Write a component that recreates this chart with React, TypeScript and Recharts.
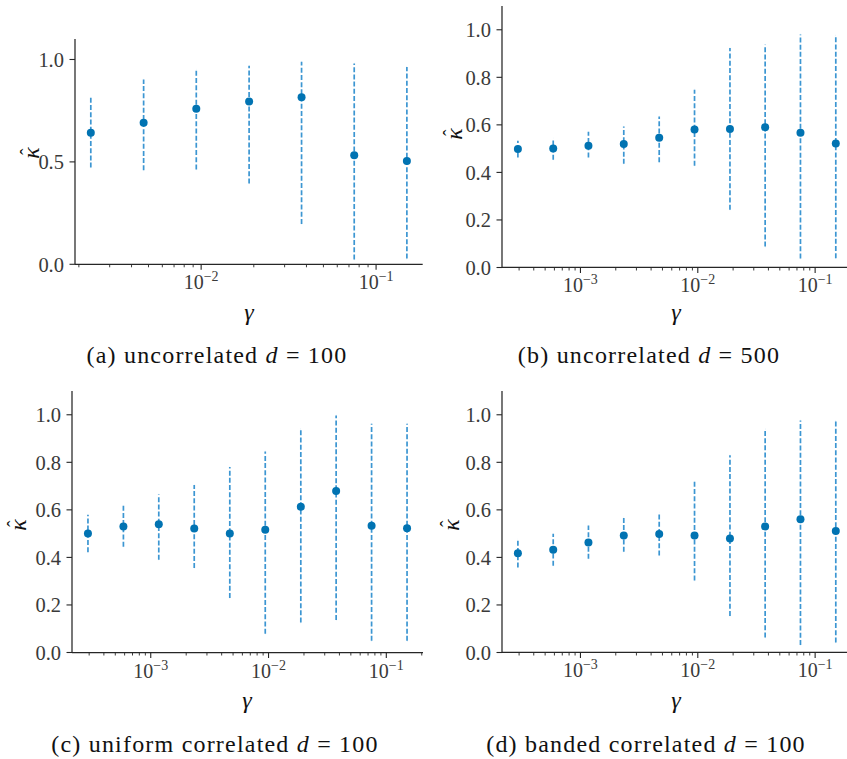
import React from 'react';
import { ScatterChart, Scatter, XAxis, YAxis, ErrorBar } from 'recharts';

// step sizes (gamma), shared by all panels; (a) only has the 7 largest
const gammaShort = [0.00234, 0.00469, 0.00938, 0.0188, 0.0375, 0.075, 0.15];
const gammaLong = [0.000293, 0.000586, 0.00117, 0.00234, 0.00469, 0.00938, 0.0188, 0.0375, 0.075, 0.15];

// (a) uncorrelated d = 100
const kappaA = [0.642, 0.691, 0.759, 0.795, 0.815, 0.533, 0.504];
const lowA = [0.472, 0.459, 0.463, 0.395, 0.197, 0.024, 0.028];
const highA = [0.813, 0.902, 0.951, 0.969, 0.989, 0.98, 0.963];

// (b) uncorrelated d = 500
const kappaB = [0.498, 0.501, 0.512, 0.519, 0.546, 0.581, 0.583, 0.59, 0.567, 0.522];
const lowB = [0.463, 0.453, 0.463, 0.436, 0.443, 0.428, 0.243, 0.088, 0.038, 0.039];
const highB = [0.533, 0.544, 0.571, 0.593, 0.635, 0.748, 0.923, 0.937, 0.98, 0.976];

// (c) uniform correlated d = 100
const kappaC = [0.501, 0.53, 0.54, 0.522, 0.501, 0.516, 0.613, 0.679, 0.533, 0.523];
const lowC = [0.422, 0.445, 0.39, 0.355, 0.229, 0.079, 0.126, 0.137, 0.049, 0.049];
const highC = [0.579, 0.617, 0.665, 0.705, 0.78, 0.846, 0.941, 0.997, 0.962, 0.962];

// (d) banded correlated d = 100
const kappaD = [0.418, 0.432, 0.463, 0.492, 0.498, 0.492, 0.48, 0.53, 0.561, 0.511];
const lowD = [0.358, 0.365, 0.394, 0.424, 0.408, 0.303, 0.154, 0.063, 0.032, 0.042];
const highD = [0.477, 0.499, 0.534, 0.568, 0.589, 0.718, 0.83, 0.94, 0.976, 0.973];

const yTicksCoarse = [0, 0.5, 1.0];
const yTicksFine = [0, 0.2, 0.4, 0.6, 0.8, 1.0];
const xMajorShort = [0.01, 0.1];
const xMajorLong = [0.001, 0.01, 0.1];

const INK = '#262626';
const TEXT = '#3a3a3a';
const DOT = '#0173b2';
const BAR = '#3c96d2';
const SERIF = "'Liberation Serif', 'Times New Roman', Tinos, 'DejaVu Serif', 'Noto Serif', Times, serif";

const YW = 80;
const XH = 40;
const MT = 8;
const MR = 6;

function XTick(props: any) {
  const { x, y, payload } = props;
  const e = Math.log10(payload.value);
  const major = Math.abs(e - Math.round(e)) < 1e-6;
  return (
    <g>
      <line x1={x} x2={x} y1={y} y2={y + (major ? 5.5 : 3)} stroke={INK} strokeWidth={major ? 1.1 : 0.9} />
      {major && (
        <text x={x} y={y + 25} textAnchor="middle" style={{ fontFamily: SERIF }} fontSize={20} fill={TEXT}>
          10<tspan dy={-8} fontSize={14}>{'\u2212' + Math.round(-e)}</tspan>
        </text>
      )}
    </g>
  );
}

function YTick(props: any) {
  const { x, y, payload } = props;
  return (
    <g>
      <line x1={x - 5.5} x2={x} y1={y} y2={y} stroke={INK} strokeWidth={1.1} />
      <text x={x - 11} y={y} dy="0.36em" textAnchor="end" style={{ fontFamily: SERIF }} fontSize={20.5} fill={TEXT}>
        {payload.value.toFixed(1)}
      </text>
    </g>
  );
}

function Dot(props: any) {
  return <circle cx={props.cx} cy={props.cy} r={4} fill={DOT} />;
}

function Panel({ gamma, kappa, low, high, xMajor, yTicks, box }: any) {
  const data = gamma.map((g: number, i: number) => ({
    g,
    k: kappa[i],
    err: [kappa[i] - low[i], high[i] - kappa[i]],
  }));
  const lg = gamma.map((g: number) => Math.log10(g));
  const lo = Math.min(...lg);
  const hi = Math.max(...lg);
  const pad = (hi - lo) * 0.05;
  const domain = [10 ** (lo - pad), 10 ** (hi + pad)];
  const minor: number[] = [];
  for (let e = Math.floor(lo - pad); e <= Math.ceil(hi + pad); e++) {
    for (let m = 2; m <= 9; m++) {
      const v = m * 10 ** e;
      if (v >= domain[0] && v <= domain[1]) minor.push(v);
    }
  }
  const ticks = [...minor, ...xMajor].sort((a, b) => a - b);

  return (
    <div style={{ position: 'absolute', left: box.x - YW, top: box.y - MT }}>
      <ScatterChart
        width={YW + box.w + MR}
        height={MT + box.h + XH}
        margin={{ top: MT, right: MR, bottom: 0, left: 0 }}
      >
        <XAxis
          type="number"
          dataKey="g"
          scale="log"
          domain={domain}
          allowDataOverflow
          ticks={ticks}
          interval={0}
          tick={<XTick />}
          tickLine={false}
          tickSize={0}
          tickMargin={0}
          height={XH}
          stroke={INK}
          strokeWidth={1.25}
        />
        <YAxis
          type="number"
          dataKey="k"
          domain={[0, 1.1]}
          allowDataOverflow
          ticks={yTicks}
          interval={0}
          tick={<YTick />}
          tickLine={false}
          tickSize={0}
          tickMargin={0}
          width={YW}
          stroke={INK}
          strokeWidth={1.25}
        />
        <Scatter data={data} shape={<Dot />} isAnimationActive={false}>
          <ErrorBar dataKey="err" direction="y" width={0} stroke={BAR} strokeWidth={1.7} strokeDasharray="5 2.2" />
        </Scatter>
      </ScatterChart>
    </div>
  );
}

function Txt({ x, y, size = 24, rotate = false, italic = false, children }: any) {
  return (
    <div
      style={{
        position: 'absolute',
        left: x,
        top: y,
        transform: `translate(-50%, -50%)${rotate ? ' rotate(-90deg)' : ''}`,
        fontFamily: SERIF,
        fontSize: size,
        fontStyle: italic ? 'italic' : 'normal',
        lineHeight: 1,
        whiteSpace: 'nowrap',
        color: '#111',
      }}
    >
      {children}
    </div>
  );
}

// kappa with a hat drawn on top, so it does not depend on combining marks
function KappaHat({ x, y }: any) {
  return (
    <Txt x={x} y={y} rotate italic size={24}>
      <span style={{ position: 'relative', display: 'inline-block' }}>
        κ
        <span style={{ position: 'absolute', left: '0.2em', top: '-0.12em', fontSize: '0.8em', fontStyle: 'normal' }}>ˆ</span>
      </span>
    </Txt>
  );
}

function Caption({ x, y, label, d }: any) {
  return (
    <Txt x={x} y={y} size={24}>
      <span style={{ letterSpacing: 1.2 }}>
        {label} <i>d</i> = {d}
      </span>
    </Txt>
  );
}

export default function App() {
  const boxA = { x: 75, y: 39, w: 347.7, h: 225.3 };
  const boxB = { x: 501.7, y: 6.2, w: 349.7, h: 261.5 };
  const boxC = { x: 71.7, y: 391.2, w: 351, h: 261.5 };
  const boxD = { x: 501.7, y: 391.2, w: 349.7, h: 261.5 };
  return (
    <div style={{ position: 'absolute', left: 0, top: 0, width: 847, height: 759, overflow: 'hidden', background: '#fff' }}>
      <Panel gamma={gammaShort} kappa={kappaA} low={lowA} high={highA} xMajor={xMajorShort} yTicks={yTicksCoarse} box={boxA} />
      <Panel gamma={gammaLong} kappa={kappaB} low={lowB} high={highB} xMajor={xMajorLong} yTicks={yTicksFine} box={boxB} />
      <Panel gamma={gammaLong} kappa={kappaC} low={lowC} high={highC} xMajor={xMajorLong} yTicks={yTicksFine} box={boxC} />
      <Panel gamma={gammaLong} kappa={kappaD} low={lowD} high={highD} xMajor={xMajorLong} yTicks={yTicksFine} box={boxD} />

      <KappaHat x={31} y={153} />
      <KappaHat x={454} y={134} />
      <KappaHat x={18} y={525} />
      <KappaHat x={451} y={525} />

      <Txt x={249} y={312} italic>γ</Txt>
      <Txt x={676} y={312} italic>γ</Txt>
      <Txt x={247} y={700} italic>γ</Txt>
      <Txt x={676} y={700} italic>γ</Txt>

      <Caption x={217} y={355} label="(a) uncorrelated" d="100" />
      <Caption x={649} y={355} label="(b) uncorrelated" d="500" />
      <Caption x={215} y={744} label="(c) uniform correlated" d="100" />
      <Caption x={646} y={744} label="(d) banded correlated" d="100" />
    </div>
  );
}
